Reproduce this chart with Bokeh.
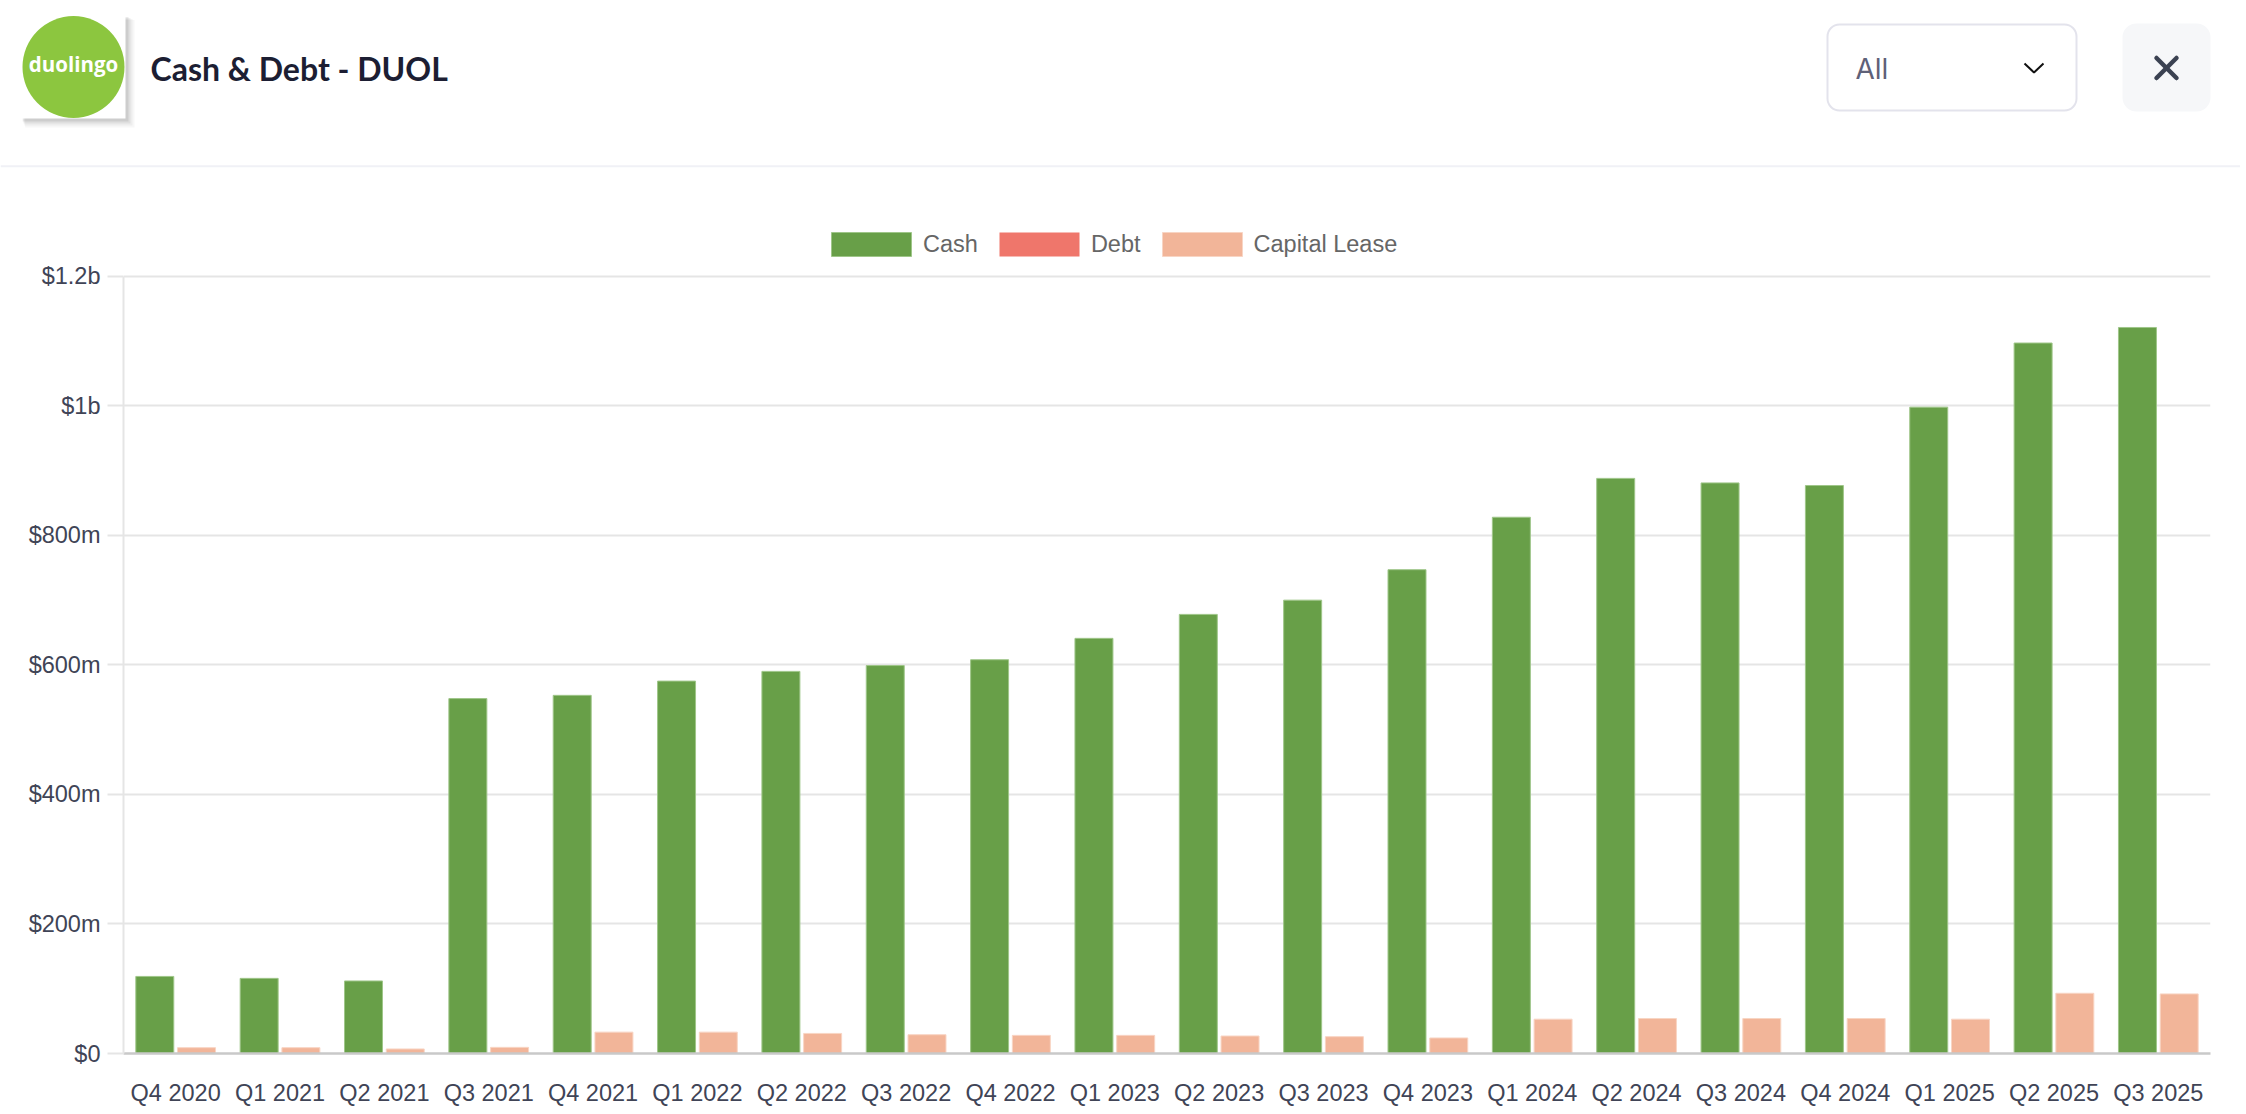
from bokeh.plotting import figure
from bokeh.models import (ColumnDataSource, FactorRange, Range1d, Legend,
                          LegendItem, FixedTicker)
from bokeh.transform import dodge
from bokeh.layouts import column
from bokeh.core.properties import value
from bokeh.embed import file_html
from bokeh.resources import INLINE

# ---------------- data ----------------
quarters = ["Q4 2020", "Q1 2021", "Q2 2021", "Q3 2021", "Q4 2021",
            "Q1 2022", "Q2 2022", "Q3 2022", "Q4 2022", "Q1 2023",
            "Q2 2023", "Q3 2023", "Q4 2023", "Q1 2024", "Q2 2024",
            "Q3 2024", "Q4 2024", "Q1 2025", "Q2 2025", "Q3 2025"]
cash = [119, 116, 112, 548, 553, 575, 590, 599, 608, 641,
        678, 700, 747, 828, 888, 881, 877, 998, 1097, 1121]          # $m
debt = [0] * 20                                                       # $m
capital_lease = [9, 9, 7, 9.5, 33, 33, 31, 29, 28, 28,
                 27, 26, 24, 53, 54, 54, 54, 53, 93, 92]              # $m
y_ticks = [0, 200, 400, 600, 800, 1000, 1200]
y_tick_labels = ["$0", "$200m", "$400m", "$600m", "$800m", "$1b", "$1.2b"]
series_names = ["Cash", "Debt", "Capital Lease"]
title_text = "Cash & Debt - DUOL"
filter_text = "All"

W = 2240
TICK_FONT = "Liberation Sans"

# ---------------- header ----------------
header = figure(width=W, height=168, x_range=Range1d(0, W), y_range=Range1d(168, 0),
                output_backend="svg", toolbar_location=None,
                x_axis_location=None, y_axis_location=None,
                min_border=0, min_border_left=0, min_border_right=0,
                min_border_top=0, min_border_bottom=0)
header.frame_align = False
header.grid.visible = False
header.outline_line_color = None
header.background_fill_color = "white"

# logo with soft shadow
for d, a in [(9, 0.03), (7, 0.04), (5, 0.06), (3, 0.08)]:
    header.quad(left=21 + d * 0.4, right=125 + d, top=15 + d * 0.5, bottom=118 + d,
                fill_color="#000000", fill_alpha=a, line_color=None)
header.quad(left=21, right=125, top=15, bottom=118, fill_color="white", line_color=None)
header.ellipse(x=73, y=66.5, width=102, height=102, fill_color="#8CC63F", line_color=None)
header.text(x=[73], y=[63], text=["duolingo"], text_align="center", text_baseline="middle",
            text_font=value("Open Sans"), text_font_style="bold", text_font_size="20.5px",
            text_color="white")

header.text(x=[150], y=[68], text=[title_text], text_align="left", text_baseline="middle",
            text_font=value("Lato"), text_font_style="bold", text_font_size="32px",
            text_color="#1C1E33")

# dropdown
header.quad(left=1827, right=2076, top=24, bottom=110, fill_color="white",
            line_color="#E3E3EC", line_width=2, border_radius=12)
header.text(x=[1855], y=[68], text=[filter_text], text_align="left", text_baseline="middle",
            text_font=value("Inter"), text_font_size="28px", text_color="#5F6178")
header.line(x=[2024, 2033.5, 2043], y=[63, 72, 63], line_color="#111111", line_width=2)

# close button
header.quad(left=2122, right=2210, top=23, bottom=111, fill_color="#F6F7F9",
            line_color=None, border_radius=14)
header.multi_line(xs=[[2156, 2176], [2176, 2156]], ys=[[57.5, 77.5], [57.5, 77.5]],
                  line_color="#3B4252", line_width=4.5, line_cap="round")

# separator
header.quad(left=0, right=W, top=164.7, bottom=166.7, fill_color="#F0F1F6", line_color=None)

# ---------------- chart ----------------
src = ColumnDataSource(dict(quarter=quarters, cash=cash, debt=debt, lease=capital_lease))

# frame: x 123..2210, y 225..1056 (page px); $1.2b sits 51 px below frame top
Y_TOP = 1200 + 51 / 0.65
p = figure(x_range=FactorRange(factors=quarters), y_range=Range1d(0, Y_TOP),
           width=W, height=940, output_backend="svg", toolbar_location=None,
           min_border_left=123, min_border_right=W - 2210, min_border_top=57,
           min_border_bottom=52)
p.frame_align = False
p.outline_line_color = None
p.background_fill_color = "white"

r_cash = p.vbar(x=dodge("quarter", -0.2, range=p.x_range), top="cash", width=0.364,
                source=src, fill_color="#689F48", line_color="#9FC689", line_width=1)
r_debt = p.vbar(x="quarter", top="debt", width=0.364, source=src,
                fill_color="#EF766B", line_color="#EF766B", line_alpha=0)
r_lease = p.vbar(x=dodge("quarter", 0.2, range=p.x_range), top="lease", width=0.364,
                 source=src, fill_color="#F2B599", line_color="#F8D5C4", line_width=1)

# legend glyphs are drawn at 80% of the glyph box -> 100x30 box gives 80x24 swatches
legend = Legend(items=[LegendItem(label=series_names[0], renderers=[r_cash]),
                       LegendItem(label=series_names[1], renderers=[r_debt]),
                       LegendItem(label=series_names[2], renderers=[r_lease])],
                orientation="horizontal", location=(698, 794),
                glyph_width=100, glyph_height=30, label_height=30, label_standoff=2,
                spacing=11, padding=0, margin=0, border_line_color=None,
                background_fill_alpha=0,
                label_text_font=TICK_FONT, label_text_font_size="23.5px",
                label_text_color="#666666")
p.add_layout(legend, "center")

p.xgrid.grid_line_color = None
p.ygrid.grid_line_color = "#E5E5E5"
p.ygrid.grid_line_width = 2

p.yaxis.ticker = FixedTicker(ticks=y_ticks)
p.yaxis.bounds = (0, 1200)
p.yaxis.major_label_overrides = {t: l for t, l in zip(y_ticks, y_tick_labels)}
p.yaxis.axis_line_color = "#E5E5E5"
p.yaxis.axis_line_width = 2
p.yaxis.major_tick_in = 0
p.yaxis.major_tick_out = 16
p.yaxis.major_tick_line_color = "#E5E5E5"
p.yaxis.major_tick_line_width = 2
p.yaxis.minor_tick_line_color = None
p.yaxis.major_label_standoff = 7
p.yaxis.major_label_text_font = TICK_FONT
p.yaxis.major_label_text_font_size = "23.5px"
p.yaxis.major_label_text_color = "#404456"

p.xaxis.axis_line_color = "#C9C9C9"
p.xaxis.axis_line_width = 2.5
p.xaxis.major_tick_line_color = None
p.xaxis.minor_tick_line_color = None
p.xaxis.major_label_standoff = 20
p.xaxis.major_label_text_font = TICK_FONT
p.xaxis.major_label_text_font_size = "23.5px"
p.xaxis.major_label_text_color = "#404456"

layout = column(header, p, spacing=0)
open("out.html", "w").write(file_html(layout, INLINE))
